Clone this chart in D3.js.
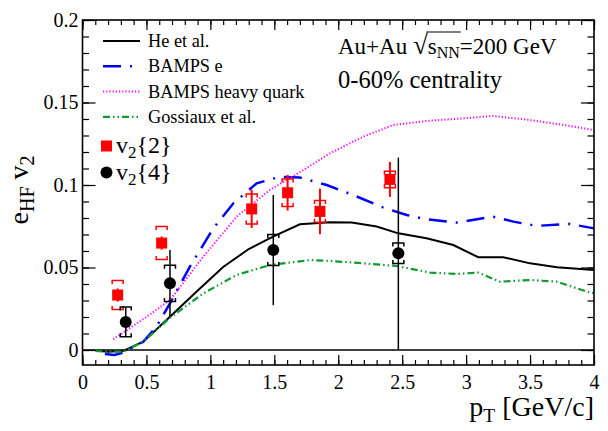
<!DOCTYPE html>
<html><head><meta charset="utf-8">
<script src="https://cdn.jsdelivr.net/npm/d3@7"></script>
<style>body{margin:0;background:#fff} svg text{font-family:'Liberation Serif','Times New Roman',Times,serif}</style>
</head><body><svg id="c" width="608" height="431"></svg>
<script>
// ---- data ----
const heX = [0.12,0.2,0.32,0.475,0.684,0.893,1.10,1.30,1.49,1.70,1.935,2.105,2.30,2.47,2.69,2.90,3.095,3.29,3.50,3.71,4.0];
const heY = [-0.0005,-0.001,-0.0005,0.005,0.0202,0.0354,0.0503,0.0612,0.0687,0.0762,0.0774,0.0772,0.0748,0.0707,0.0677,0.0636,0.0562,0.0562,0.0525,0.0501,0.0485];
const bampsEX = [0.175,0.25,0.32,0.475,0.58,0.684,0.84,1.023,1.18,1.362,1.544,1.70,1.91,2.117,2.35,2.535,2.69,2.925,3.21,3.37,3.55,3.81,4.0];
const bampsEY = [-0.0024,-0.003,-0.0015,0.005,0.0143,0.0283,0.0505,0.0737,0.0889,0.101,0.105,0.1045,0.100,0.0939,0.0864,0.0818,0.0792,0.0772,0.0808,0.0778,0.0752,0.0764,0.0737];
const bampsHQX = [0.24,0.50,0.684,0.945,1.206,1.466,1.726,1.935,2.196,2.43,2.72,2.98,3.21,3.50,3.76,4.0];
const bampsHQY = [0.0065,0.020,0.0303,0.0566,0.0808,0.097,0.109,0.1192,0.1293,0.1364,0.139,0.1404,0.1418,0.1394,0.1364,0.1333];
const gossX = [0.10,0.2,0.32,0.475,0.684,0.945,1.206,1.466,1.78,1.935,2.196,2.457,2.717,2.925,3.095,3.264,3.50,3.71,3.97,4.0];
const gossY = [-0.0006,-0.001,-0.001,0.005,0.0195,0.0343,0.0455,0.0515,0.0545,0.0540,0.0525,0.0509,0.0469,0.0461,0.0469,0.0414,0.0424,0.0414,0.0347,0.0345];

const v22X = [0.275,0.619,1.323,1.604,1.857,2.404];
const v22Y = [0.0333,0.0648,0.0855,0.0953,0.0840,0.1034];
const v22Stat = [0.004,0.004,0.0116,0.0108,0.0138,0.0106];
const v22Sys = [0.0088,0.010,0.0091,0.0083,0.0066,0.005];
const v24X = [0.338,0.684,1.492,2.47];
const v24Y = [0.0170,0.0404,0.0606,0.0586];
const v24Stat = [0.0089,0.0202,0.0334,0.058];
const v24Sys = [0.009,0.011,0.0094,0.0062];

const xMajor = [0,0.5,1,1.5,2,2.5,3,3.5,4];
const xMinor = d3.range(0,41).map(i=>i/10);
const yMajor = [0,0.05,0.1,0.15,0.2];
const yMinor = d3.range(0,21).map(i=>i/100);
const xTickLabels = ["0","0.5","1","1.5","2","2.5","3","3.5","4"];
const yTickLabels = ["0","0.05","0.1","0.15","0.2"];
const curveLabels = ["He et al.","BAMPS e","BAMPS heavy quark","Gossiaux et al."];

// ---- drawing ----
const FONT = "'Liberation Serif','Times New Roman',Times,serif";
const svg = d3.select("#c");
const x = d3.scaleLinear().domain([0,4]).range([82.5,594]);
const y = d3.scaleLinear().domain([-0.0091,0.2]).range([365,20]);

const styles = [
  {stroke:"#000000", width:2, dash:null},
  {stroke:"#0000ff", width:2.5, dash:"18,9,2,9"},
  {stroke:"#ff00ff", width:2, dash:"1.2,2"},
  {stroke:"#109a30", width:2.2, dash:"7,3,1.5,3,1.5,3"}
];
const curves = [d3.zip(heX,heY), d3.zip(bampsEX,bampsEY), d3.zip(bampsHQX,bampsHQY), d3.zip(gossX,gossY)];

svg.append("line").attr("x1",x(0)).attr("x2",x(4)).attr("y1",y(0)).attr("y2",y(0))
  .attr("stroke","#000").attr("stroke-width",1.5);

const line = d3.line().x(d=>x(d[0])).y(d=>y(d[1]));
curves.forEach((c,i)=>{
  svg.append("path").attr("d",line(c)).attr("fill","none")
    .attr("stroke",styles[i].stroke).attr("stroke-width",styles[i].width)
    .attr("stroke-dasharray",styles[i].dash);
});

function styleAxis(g){ g.attr("font-family",FONT); g.select(".domain").remove(); g.selectAll("line").attr("stroke","#000").attr("stroke-width",1.2);
  g.selectAll("text").attr("font-size",20).attr("fill","#000"); }
svg.append("g").attr("transform",`translate(0,${y.range()[0]})`)
  .call(d3.axisBottom(x).tickValues(xMinor).tickSize(-5).tickFormat("")).call(styleAxis);
svg.append("g").attr("transform",`translate(0,${y.range()[0]})`)
  .call(d3.axisBottom(x).tickValues(xMajor).tickSize(-10).tickPadding(10).tickFormat((d,i)=>xTickLabels[i])).call(styleAxis);
svg.append("g").attr("transform",`translate(0,${y.range()[1]})`)
  .call(d3.axisTop(x).tickValues(xMinor).tickSize(-5).tickFormat("")).call(styleAxis);
svg.append("g").attr("transform",`translate(0,${y.range()[1]})`)
  .call(d3.axisTop(x).tickValues(xMajor).tickSize(-10).tickFormat("")).call(styleAxis);
svg.append("g").attr("transform",`translate(${x.range()[0]},0)`)
  .call(d3.axisLeft(y).tickValues(yMinor).tickSize(-6.5).tickFormat("")).call(styleAxis);
svg.append("g").attr("transform",`translate(${x.range()[0]},0)`)
  .call(d3.axisLeft(y).tickValues(yMajor).tickSize(-13).tickPadding(4).tickFormat((d,i)=>yTickLabels[i])).call(styleAxis);
svg.append("g").attr("transform",`translate(${x.range()[1]},0)`)
  .call(d3.axisRight(y).tickValues(yMinor).tickSize(-6.5).tickFormat("")).call(styleAxis);
svg.append("g").attr("transform",`translate(${x.range()[1]},0)`)
  .call(d3.axisRight(y).tickValues(yMajor).tickSize(-13).tickFormat("")).call(styleAxis);

svg.append("rect").attr("x",x(0)).attr("y",y(0.2)).attr("width",x(4)-x(0)).attr("height",y(-0.0091)-y(0.2))
  .attr("fill","none").attr("stroke","#000").attr("stroke-width",1.6);

function drawPoints(px,py,stat,sys,color,shape){
  const g = svg.append("g");
  const bw = 5.5, tk = 3.5;
  px.forEach((xv,i)=>{
    const cx = x(xv);
    g.append("line").attr("x1",cx).attr("x2",cx).attr("y1",y(py[i]+stat[i])).attr("y2",y(py[i]-stat[i]))
      .attr("stroke",color).attr("stroke-width",color==="#000"?1.5:2);
    const yt = y(py[i]+sys[i]), yb = y(py[i]-sys[i]);
    g.append("path").attr("d",`M${cx-bw},${yt+tk}V${yt}H${cx+bw}V${yt+tk}`).attr("fill","none").attr("stroke",color).attr("stroke-width",1.5);
    g.append("path").attr("d",`M${cx-bw},${yb-tk}V${yb}H${cx+bw}V${yb-tk}`).attr("fill","none").attr("stroke",color).attr("stroke-width",1.5);
    if(shape==="square") g.append("rect").attr("x",cx-5.5).attr("y",y(py[i])-5.5).attr("width",11).attr("height",11).attr("fill",color);
    else g.append("circle").attr("cx",cx).attr("cy",y(py[i])).attr("r",6).attr("fill",color);
  });
}
drawPoints(v22X,v22Y,v22Stat,v22Sys,"#ff0000","square");
drawPoints(v24X,v24Y,v24Stat,v24Sys,"#000","circle");

const leg = svg.append("g").attr("font-family",FONT);
curveLabels.forEach((lab,i)=>{
  const yy = 41 + i*25.3;
  leg.append("line").attr("x1",103).attr("x2",140).attr("y1",yy).attr("y2",yy)
    .attr("stroke",styles[i].stroke).attr("stroke-width",styles[i].width).attr("stroke-dasharray",styles[i].dash);
  leg.append("text").attr("x",148).attr("y",yy+6).attr("font-size",18.3).text(lab);
});
leg.append("rect").attr("x",101).attr("y",140.5).attr("width",11).attr("height",11).attr("fill","#ff0000");
leg.append("circle").attr("cx",106.5).attr("cy",172.5).attr("r",6).attr("fill","#000");
[["2",152.5],["4",179.5]].forEach(([n,yy])=>{
  const t = leg.append("text").attr("x",116).attr("y",yy).attr("font-size",24);
  t.append("tspan").text("v");
  t.append("tspan").attr("font-size",17).attr("dy",5).text("2");
  t.append("tspan").attr("dy",-5).text("{"+n+"}");
});

const ann = svg.append("text").attr("x",338).attr("y",54).attr("font-size",23).attr("font-family",FONT);
ann.append("tspan").text("Au+Au ");
ann.append("tspan").attr("font-size",27).text("\u221A");
ann.append("tspan").text("s");
ann.append("tspan").attr("font-size",16).attr("dy",4).text("NN");
ann.append("tspan").attr("dy",-4).text("=200 GeV");
{
  const node = ann.node();
  const e1 = node.getExtentOfChar(6), e2 = node.getExtentOfChar(9);
  svg.append("line").attr("x1",e1.x+e1.width-1.5).attr("x2",e2.x+e2.width+1).attr("y1",e1.y+2).attr("y2",e1.y+2)
    .attr("stroke","#000").attr("stroke-width",1.2);
}
svg.append("text").attr("x",338).attr("y",88).attr("font-size",24.5).attr("font-family",FONT).text("0-60% centrality");

const yt = svg.append("text").attr("transform","translate(28,190) rotate(-90)").attr("text-anchor","middle").attr("font-size",28).attr("font-family",FONT);
yt.append("tspan").text("e");
yt.append("tspan").attr("font-size",20).attr("dy",6).text("HF");
yt.append("tspan").attr("dy",-6).text(" v");
yt.append("tspan").attr("font-size",20).attr("dy",6).text("2");

const xt = svg.append("text").attr("x",594).attr("y",416).attr("text-anchor","end").attr("font-size",28).attr("font-family",FONT);
xt.append("tspan").text("p");
xt.append("tspan").attr("font-size",19.5).attr("dy",6).text("T");
xt.append("tspan").attr("dy",-6).text(" [GeV/c]");
</script></body></html>
